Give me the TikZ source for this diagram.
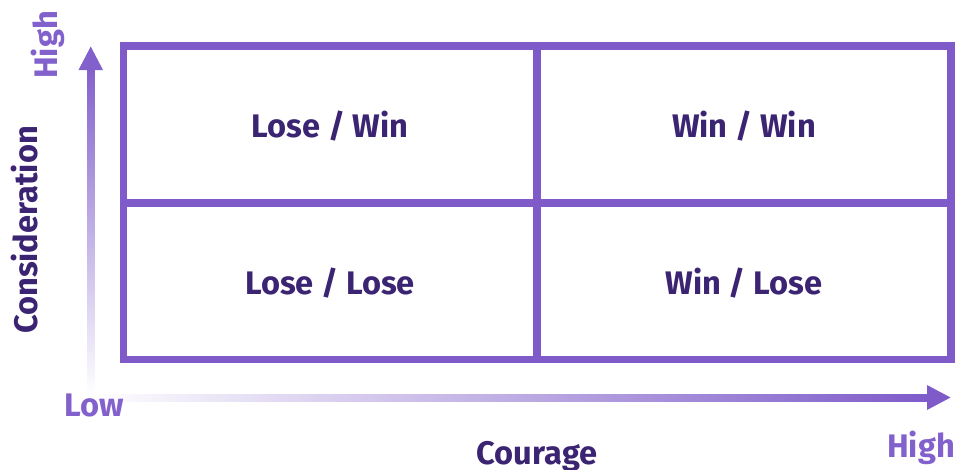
\documentclass[tikz,border=0pt]{standalone}
\usepackage{fontspec}
\setmainfont{Fira Sans}
\definecolor{gridc}{HTML}{7E5BC9}
\definecolor{darkc}{HTML}{3B2472}
\definecolor{axisc}{HTML}{8361CC}
\tikzset{
  gridline/.style={draw=gridc, line width=7.5pt},
  quadlabel/.style={font=\fontsize{32.6}{38}\selectfont\bfseries, text=darkc, inner sep=0pt},
  axtitle/.style={font=\fontsize{32.6}{38}\selectfont\bfseries, text=darkc, inner sep=0pt},
  axend/.style={font=\fontsize{32.6}{38}\selectfont\bfseries, text=axisc, inner sep=0pt},
}
\begin{document}
\begin{tikzpicture}[x=1pt,y=-1pt]
\useasboundingbox (0,0) rectangle (956,469);
% grid
\coordinate (tl) at (123.5,46);
\coordinate (br) at (951,359.5);
\coordinate (tm) at (537,46);
\coordinate (bm) at (537,359.5);
\coordinate (ml) at (123.5,203);
\coordinate (mr) at (951,203);
\draw[gridline] (tl) rectangle (br);
\draw[gridline] (tm) -- (bm);
\draw[gridline] (ml) -- (mr);
% quadrant labels
\node[quadlabel] (lw) at (330,126) {Lose / Win};
\node[quadlabel] (ww) at (744,126) {Win / Win};
\node[quadlabel] (ll) at (330,283) {Lose / Lose};
\node[quadlabel] (wl) at (744,283) {Win / Lose};
% y axis
\shade[bottom color=white, top color=axisc] (87,395) rectangle (94.5,69);
\fill[axisc] (78.5,70) -- (90.75,46.5) -- (103,70) -- cycle;
% x axis
\shade[left color=white, right color=gridc] (88,394) rectangle (928,401);
\fill[gridc] (927,385) -- (950.5,397.5) -- (927,410) -- cycle;
% axis labels
\node[axend, rotate=90] (yhigh) at (48,45) {High};
\node[axtitle, rotate=90] (ytitle) at (25,230) {Consideration};
\node[axend] (xlow) at (94,405) {Low};
\node[axtitle, anchor=base] (xtitle) at (537,464) {Courage};
\node[axend] (xhigh) at (921,448) {High};
\end{tikzpicture}
\end{document}
